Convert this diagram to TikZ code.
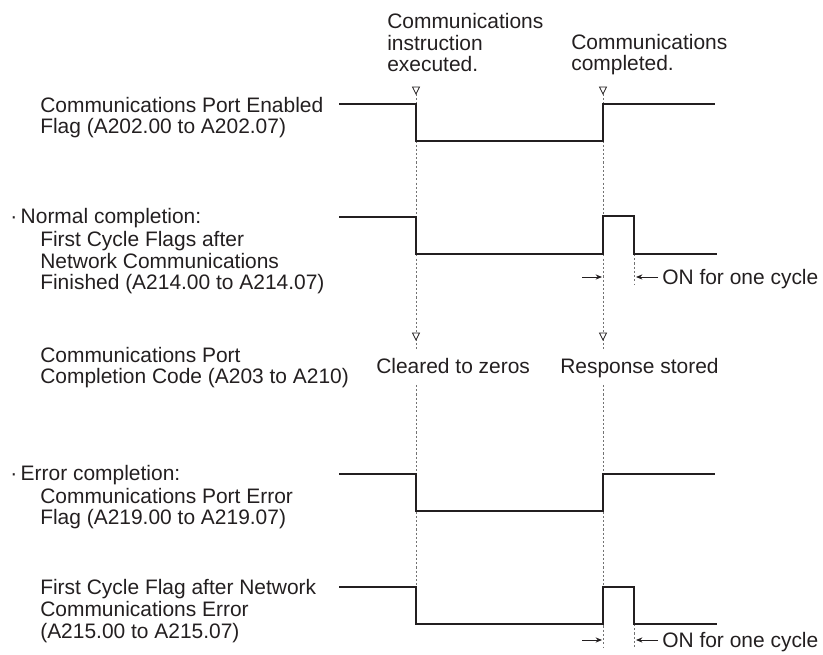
\documentclass[tikz,border=0pt]{standalone}
\usepackage{fontspec}
\setmainfont{Liberation Sans}
\usetikzlibrary{arrows.meta}
\definecolor{ink}{HTML}{231F20}
\tikzset{
  lbl/.style={anchor=base west, inner sep=0pt, align=left, text=ink, font=\fontsize{14.9}{15.6}\selectfont},
  wave/.style={draw=ink, line width=1.4pt, line join=miter},
  guide/.style={draw=black!55, line width=0.7pt, dash pattern=on 1.5pt off 1.5pt},
  trimark/.style={draw=ink, fill=white, line width=0.6pt, line join=miter},
  span/.style={-{Stealth[length=1.6mm, width=1.3mm]}, draw=ink, line width=0.7pt}
}

\begin{document}
\begin{tikzpicture}[x=0.025cm, y=-0.025cm]
  \useasboundingbox (0,0) rectangle (823,655);

  % event labels (base = last line)
  \node[lbl] (exec) at (387,72) {Communications\\instruction\\executed.};
  \node[lbl] (done) at (571,71) {Communications\\completed.};

  % signal names
  \node[lbl] (portflag) at (40,134) {Communications Port Enabled\\Flag (A202.00 to A202.07)};
  \node[lbl] (normhd) at (10,224) {\textperiodcentered\,Normal completion:};
  \node[lbl] (normtx) at (40,290) {First Cycle Flags after\\Network Communications\\Finished (A214.00 to A214.07)};
  \node[lbl] (code) at (40,384) {Communications Port\\Completion Code (A203 to A210)};
  \node[lbl] (errhd) at (10,481) {\textperiodcentered\,Error completion:};
  \node[lbl] (errtx) at (40,525) {Communications Port Error\\Flag (A219.00 to A219.07)};
  \node[lbl] (errcyc) at (40,638) {First Cycle Flag after Network\\Communications Error\\(A215.00 to A215.07)};

  % code contents
  \node[lbl] (clear) at (376,374) {Cleared to zeros};
  \node[lbl] (resp) at (560,374) {Response stored};

  % time guides
  \draw[guide] (416,94) -- (416,350);
  \draw[guide] (416,385) -- (416,587);
  \draw[guide] (603,94) -- (603,350);
  \draw[guide] (603,385) -- (603,648);
  \draw[guide] (634,254) -- (634,285);
  \draw[guide] (634,624) -- (634,648);

  \draw[trimark] (412.5,87) -- (419.5,87) -- (416,94) -- cycle;
  \draw[trimark] (599.5,87) -- (606.5,87) -- (603,94) -- cycle;
  \draw[trimark] (412.5,333) -- (419.5,333) -- (416,340) -- cycle;
  \draw[trimark] (599.5,333) -- (606.5,333) -- (603,340) -- cycle;

  % waveforms
  \draw[wave] (339,104) -- (416,104) -- (416,141) -- (603,141) -- (603,104) -- (715,104);
  \draw[wave] (339,217) -- (416,217) -- (416,254) -- (603,254) -- (603,216) -- (634,216) -- (634,254) -- (717,254);
  \draw[wave] (339,474) -- (416,474) -- (416,511) -- (603,511) -- (603,474) -- (715,474);
  \draw[wave] (339,587) -- (416,587) -- (416,624) -- (603,624) -- (603,587) -- (634,587) -- (634,624) -- (717,624);

  % one cycle width
  \node[lbl] (cyc1) at (662,285) {ON for one cycle};
  \node[lbl] (cyc2) at (662,647) {ON for one cycle};
  \coordinate (a1) at (582,277);
  \coordinate (b1) at (602,277);
  \coordinate (c1) at (636,277);
  \coordinate (a2) at (582,640);
  \coordinate (b2) at (602,640);
  \coordinate (c2) at (636,640);
  \draw[span] (a1) -- (b1);
  \draw[span] (cyc1.west |- c1) ++(-4,0) -- (c1);
  \draw[span] (a2) -- (b2);
  \draw[span] (cyc2.west |- c2) ++(-4,0) -- (c2);
\end{tikzpicture}
\end{document}
